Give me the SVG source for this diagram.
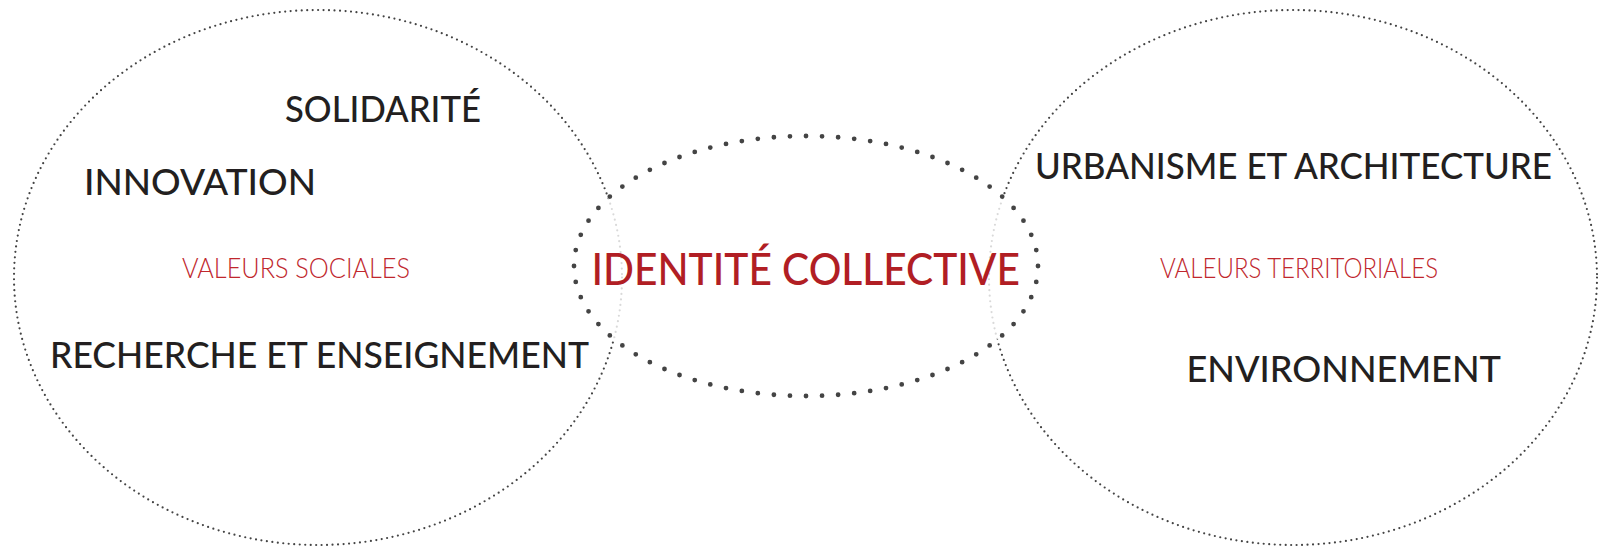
<svg xmlns="http://www.w3.org/2000/svg" width="1598" height="547" viewBox="0 0 1598 547">
<style>
.big{fill:none;stroke:#444;stroke-width:2.2;stroke-linecap:round;stroke-dasharray:0 5.5}
.mid{fill:#fff;fill-opacity:0.8;stroke:#444;stroke-width:4.8;stroke-linecap:round;stroke-dasharray:0 1}
.k{font-family:Lato,"Liberation Sans",sans-serif;font-size:36px;fill:#231f20;font-weight:500}
.r{font-family:Lato,"Liberation Sans",sans-serif;font-size:27px;fill:#c0272d;font-weight:300}
.t{font-family:Lato,"Liberation Sans",sans-serif;font-size:45px;fill:#b11e24;font-weight:500}
</style>
<rect width="1598" height="547" fill="#fff"/>
<g id="valeurs-sociales">
<ellipse class="big" cx="318" cy="277.5" rx="304" ry="267.5"/>
<text class="k" x="285" y="122" textLength="196" lengthAdjust="spacingAndGlyphs">SOLIDARITÉ</text>
<text class="k" x="84" y="194.5" textLength="232" lengthAdjust="spacingAndGlyphs">INNOVATION</text>
<text class="r" x="182" y="278" textLength="228" lengthAdjust="spacingAndGlyphs">VALEURS SOCIALES</text>
<text class="k" x="50" y="367.5" textLength="539" lengthAdjust="spacingAndGlyphs">RECHERCHE ET ENSEIGNEMENT</text>
</g>
<g id="valeurs-territoriales">
<ellipse class="big" cx="1293" cy="277.5" rx="304" ry="267.5"/>
<text class="k" x="1035" y="178.6" textLength="517" lengthAdjust="spacingAndGlyphs">URBANISME ET ARCHITECTURE</text>
<text class="r" x="1160" y="278.3" textLength="278" lengthAdjust="spacingAndGlyphs">VALEURS TERRITORIALES</text>
<text class="k" x="1186.5" y="381.5" textLength="314.5" lengthAdjust="spacingAndGlyphs">ENVIRONNEMENT</text>
</g>
<g id="identite-collective">
<ellipse class="mid" cx="806" cy="266" rx="232" ry="130" pathLength="72"/>
<text class="t" x="591.5" y="285" textLength="428.5" lengthAdjust="spacingAndGlyphs">IDENTITÉ COLLECTIVE</text>
</g>
<g id="connectors"/>
</svg>
